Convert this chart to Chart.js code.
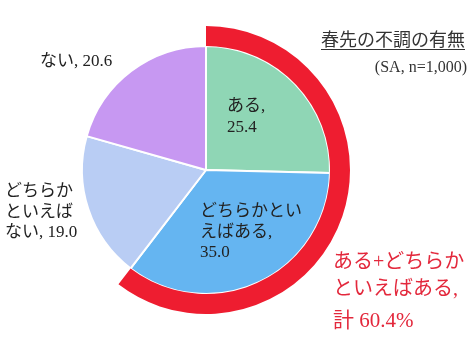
<!DOCTYPE html>
<html>
<head>
<meta charset="utf-8">
<script src="https://cdn.jsdelivr.net/npm/chart.js@4"></script>
<style>
  html, body { margin: 0; padding: 0; background: #fff; }
  #wrap { width: 469px; height: 352px; }
</style>
</head>
<body>
<div id="wrap"><canvas id="pie" width="469" height="352"></canvas></div>
<script>
// 回答区分と割合（%）
const categories = ['ある', 'どちらかといえばある', 'どちらかといえばない', 'ない'];
const values = [25.4, 35.0, 19.0, 20.6];
// 外側リング：ある+どちらかといえばある
const ringValues = [60.4, 39.6];

const sliceColors = ['#8fd6b5', '#65b5f1', '#b9cdf4', '#c798f2'];
const serif = "'Liberation Serif', 'Noto Sans CJK JP', serif";

// ラベル（中心からのオフセット、行ごと）
const labelLines = [
    { lines: ['ある,', '25.4'], dx: 21, dy: -63 },
    { lines: ['どちらかとい', 'えばある,', '35.0'], dx: -6, dy: 42 },
    { lines: ['どちらか', 'といえば', 'ない, 19.0'], dx: -201, dy: 22 },
    { lines: ['ない, 20.6'], dx: -166, dy: -108 }
];

const labelPlugin = {
    id: 'labels',
    afterDraw(chart) {
        const ctx = chart.ctx;
        const arc = chart.getDatasetMeta(1).data[0];
        const cx = arc.x, cy = arc.y;
        ctx.save();
        ctx.textBaseline = 'middle';
        ctx.textAlign = 'left';
        ctx.fillStyle = '#222';
        ctx.font = '17px ' + serif;
        labelLines.forEach(l => {
            l.lines.forEach((t, i) => {
                ctx.fillText(t, cx + l.dx, cy + l.dy + i * 20.5);
            });
        });

        // タイトル
        ctx.font = '18px ' + serif;
        ctx.textAlign = 'right';
        ctx.fillStyle = '#333';
        ctx.fillText('春先の不調の有無', 465, 41);
        const w = ctx.measureText('春先の不調の有無').width;
        ctx.fillRect(465 - w, 49, w, 1);
        ctx.font = '16px ' + serif;
        ctx.fillText('(SA, n=1,000)', 467, 68);

        // 注記
        ctx.textAlign = 'left';
        ctx.fillStyle = '#e3283c';
        ctx.font = '20px ' + serif;
        ctx.fillText('ある+どちらか', 333, 263);
        ctx.fillText('といえばある,', 333, 290);
        ctx.font = '21px ' + serif;
        ctx.fillText('計 ' + ringValues[0].toFixed(1) + '%', 333, 321);
        ctx.restore();
    }
};

new Chart(document.getElementById('pie'), {
    type: 'pie',
    data: {
        labels: categories,
        datasets: [
            {
                data: ringValues,
                backgroundColor: ['#ee1d30', 'rgba(0,0,0,0)'],
                borderWidth: 0,
                weight: 20
            },
            {
                data: values,
                backgroundColor: sliceColors,
                borderColor: '#fff',
                borderWidth: 2,
                weight: 124
            }
        ]
    },
    options: {
        responsive: false,
        animation: false,
        layout: {
            padding: { left: 62, top: 26, right: 119, bottom: 38 }
        },
        plugins: {
            legend: { display: false },
            tooltip: { enabled: false }
        }
    },
    plugins: [labelPlugin]
});
</script>
</body>
</html>
